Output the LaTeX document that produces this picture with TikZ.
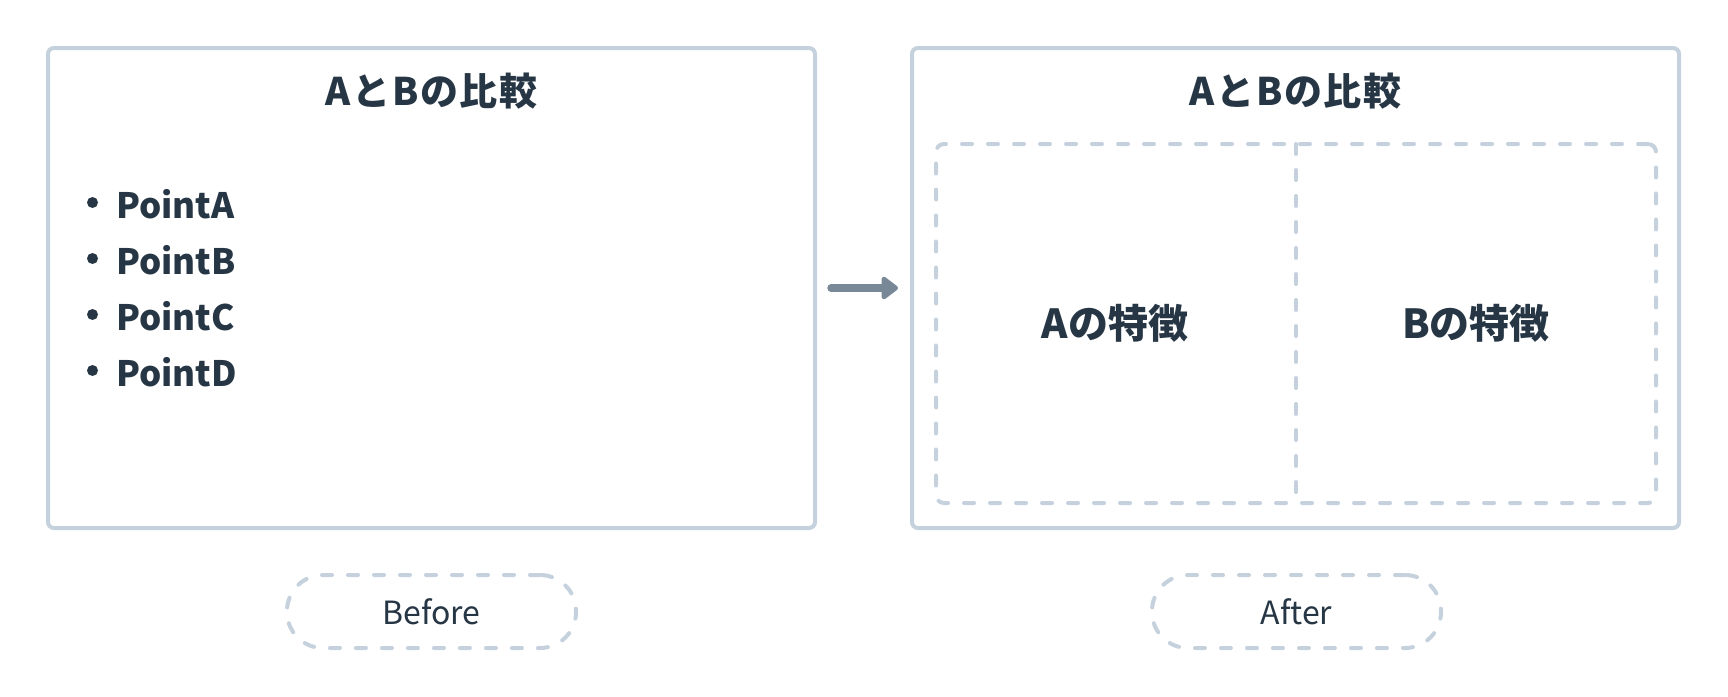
\documentclass[tikz,border=0pt]{standalone}
\usepackage{fontspec}
\setmainfont{Noto Sans CJK JP}
\usetikzlibrary{arrows.meta}
\definecolor{ink}{HTML}{263645}
\definecolor{edge}{HTML}{C5D1DC}
\definecolor{arr}{HTML}{788896}
\begin{document}
\begin{tikzpicture}[x=1pt,y=-1pt,
  panel/.style={draw=edge, line width=4pt, rounded corners=6pt, inner sep=0pt, outer sep=0pt, fill=white},
  dashline/.style={draw=edge, line width=4pt, dash pattern=on 10pt off 16pt, line cap=round},
  dashbox/.style={dashline, rounded corners=8pt, inner sep=0pt, outer sep=0pt},
  ttl/.style={text=ink, font=\fontsize{38}{40}\selectfont\bfseries\addfontfeatures{LetterSpace=4}, inner sep=0pt, anchor=base},
  item/.style={text=ink, font=\fontsize{35}{40}\selectfont\bfseries, inner sep=0pt, anchor=base west},
  feat/.style={text=ink, font=\fontsize{40}{44}\selectfont\bfseries, inner sep=0pt, anchor=base},
  dot/.style={circle, fill=ink, inner sep=0pt, minimum size=11pt},
  pill/.style={dashline, rounded corners=36pt, minimum width=289pt, minimum height=73pt, text=ink, font=\fontsize{32}{36}\selectfont, inner sep=0pt},
  arrowline/.style={draw=arr, line width=7.5pt, line cap=round, -{Triangle[length=18pt, width=26pt, round]}}
]
\useasboundingbox (0,0) rectangle (1728,696);
\fill[white] (0,0) rectangle (1728,696);

% panels
\node[panel, minimum width=767pt, minimum height=480pt] (before) at (431.5,288) {};
\node[panel, minimum width=767pt, minimum height=480pt] (after) at (1295.5,288) {};

% titles
\node[ttl] (t1) at (431.5,105) {AとBの比較};
\node[ttl] (t2) at (1295.5,105) {AとBの比較};

% bullet list
\node[dot] (d1) at (92.5,202.5) {};
\node[dot] (d2) at (92.5,258.5) {};
\node[dot] (d3) at (92.5,314.5) {};
\node[dot] (d4) at (92.5,370.5) {};
\node[item] (p1) at (116,218) {PointA};
\node[item] (p2) at (116,274) {PointB};
\node[item] (p3) at (116,330) {PointC};
\node[item] (p4) at (116,386) {PointD};

% arrow
\draw[arrowline, shorten <=16pt, shorten >=14pt] (before.east) -- (after.west);

% inner comparison frame
\node[dashbox, minimum width=720pt, minimum height=359pt] (frame) at (1296,323.5) {};
\draw[dashline] (frame.north) -- (frame.south);
\node[feat] (fa) at (1115,338) {Aの特徴};
\node[feat] (fb) at (1476,338) {Bの特徴};

% labels
\node[pill] (lb) at (431.5,611.5) {Before};
\node[pill] (la) at (1296.5,611.5) {After};
\end{tikzpicture}
\end{document}
